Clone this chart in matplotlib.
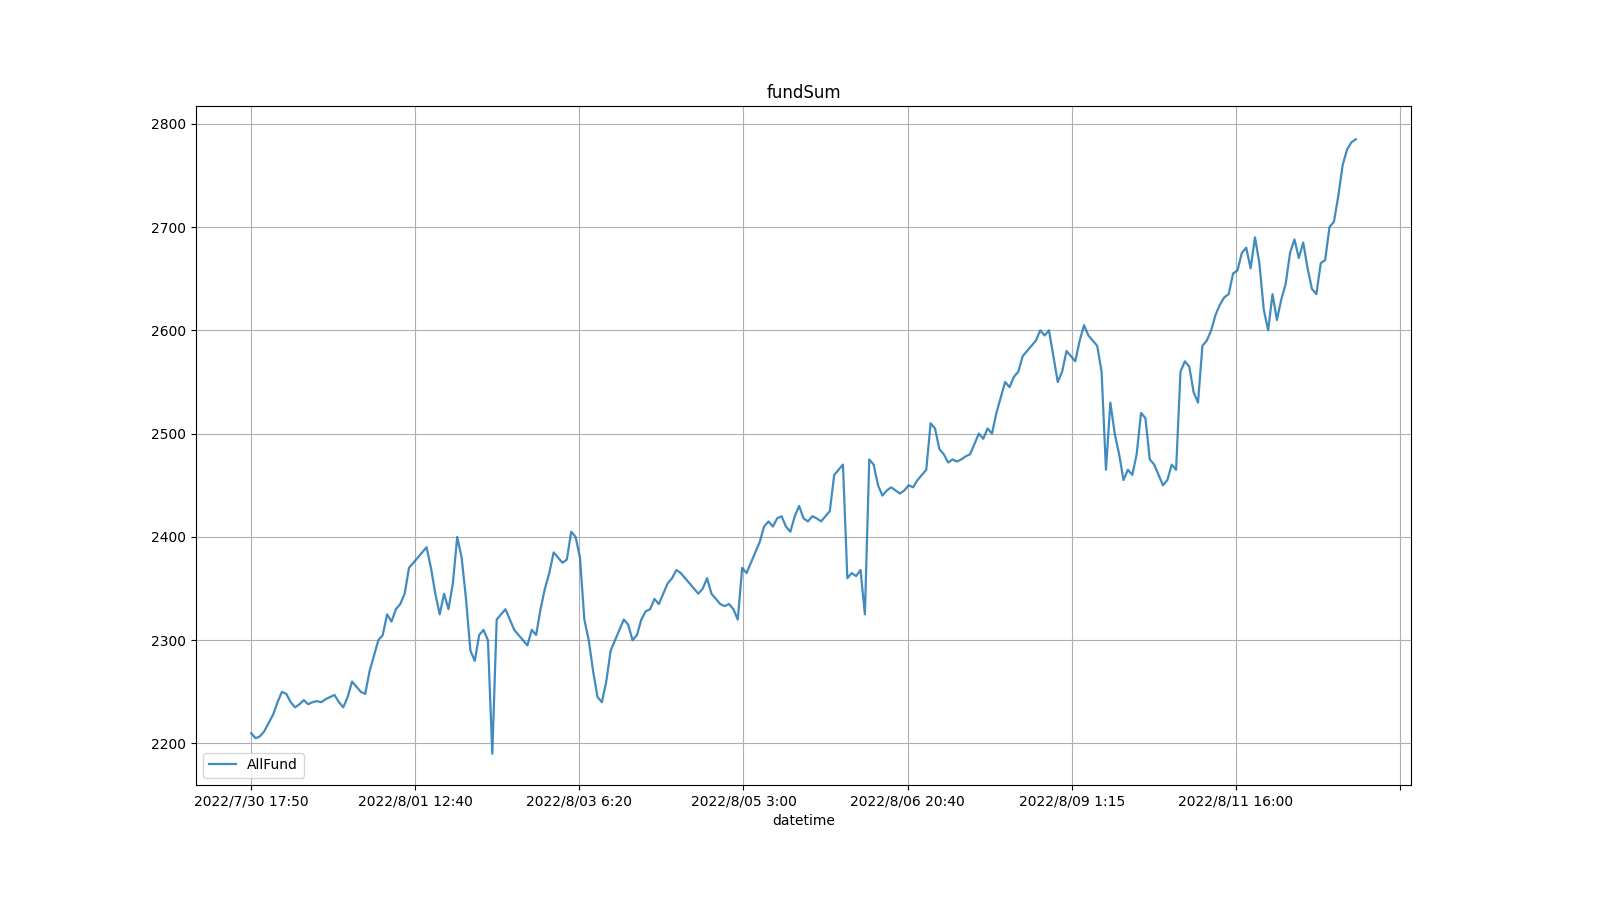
import matplotlib
matplotlib.use("Agg")
import matplotlib.pyplot as plt
import numpy as np

values = [2210, 2205,
 2207, 2212, 2220, 2228,
 2240, 2250, 2248,
 2240, 2235, 2238, 2242, 2238, 2240, 2241, 2240, 2243,
 2245, 2247, 2240, 2235, 2245, 2260, 2255, 2250, 2248,
 2270, 2285, 2300, 2305, 2325, 2318, 2330, 2335, 2345, 2370,
 2375, 2380, 2385, 2390, 2370, 2345, 2325,
 2345, 2330, 2355, 2400, 2380,
 2340, 2290, 2280, 2305, 2310, 2300,
 2190, 2320,
 2325, 2330, 2320, 2310, 2305, 2300, 2295,
 2310, 2305, 2330, 2350, 2365, 2385,
 2380, 2375, 2378, 2405,
 2400, 2380, 2320, 2300, 2270,
 2245, 2240, 2260, 2290,
 2300, 2310, 2320, 2315, 2300, 2305,
 2320, 2328, 2330, 2340, 2335, 2345, 2355, 2360, 2368, 2365, 2360, 2355, 2350,
 2345, 2350, 2360, 2345, 2340, 2335, 2333, 2335, 2330,
 2320, 2370, 2365,
 2375, 2385, 2395, 2410, 2415, 2410, 2418, 2420, 2410,
 2405, 2420, 2430, 2418, 2415, 2420, 2418, 2415, 2420, 2425,
 2460, 2465, 2470,
 2360, 2365, 2362, 2368,
 2325, 2475,
 2470, 2450, 2440, 2445, 2448, 2445,
 2442, 2445, 2450, 2448, 2455, 2460, 2465, 2510, 2505,
 2485, 2480, 2472, 2475, 2473, 2475, 2478, 2480, 2490,
 2500, 2495, 2505, 2500, 2520, 2535, 2550, 2545, 2555, 2560,
 2575, 2580, 2585, 2590, 2600, 2595, 2600,
 2575, 2550, 2560, 2580, 2575,
 2570, 2590, 2605, 2595, 2590, 2585, 2560,
 2465, 2530, 2500, 2480,
 2455, 2465, 2460, 2480,
 2520, 2515, 2475,
 2470, 2460, 2450, 2455, 2470, 2465,
 2560, 2570, 2565, 2540, 2530, 2585,
 2590, 2600, 2615, 2625, 2632, 2635, 2655,
 2658, 2675, 2680, 2660, 2690, 2665, 2620,
 2600, 2635, 2610, 2630, 2645,
 2675, 2688, 2670, 2685, 2660, 2640, 2635,
 2665, 2668, 2700, 2705, 2730,
 2760, 2775, 2782, 2785]

tick_labels = ["2022/7/30 17:50", "2022/8/01 12:40", "2022/8/03 6:20", "2022/8/05 3:00",
               "2022/8/06 20:40", "2022/8/09 1:15", "2022/8/11 16:00", ""]

n = len(values)
x = np.arange(n)
fig = plt.figure(figsize=(16, 9), dpi=100)
ax = fig.add_axes([0.1225, 0.128, 0.7594, 0.754])
ax.plot(x, values, color="#1f77b4", alpha=0.85, lw=1.6, label="AllFund")
step = (n - 1) * 164 / 1104
ax.set_xticks(np.arange(len(tick_labels)) * step)
ax.set_xticklabels(tick_labels)
ax.set_ylim(2160, 2817)
ax.set_yticks([2200, 2300, 2400, 2500, 2600, 2700, 2800])
ax.grid(True)
ax.set_title("fundSum")
ax.set_xlabel("datetime")
ax.legend(loc="lower left")
fig.savefig("out.png")
